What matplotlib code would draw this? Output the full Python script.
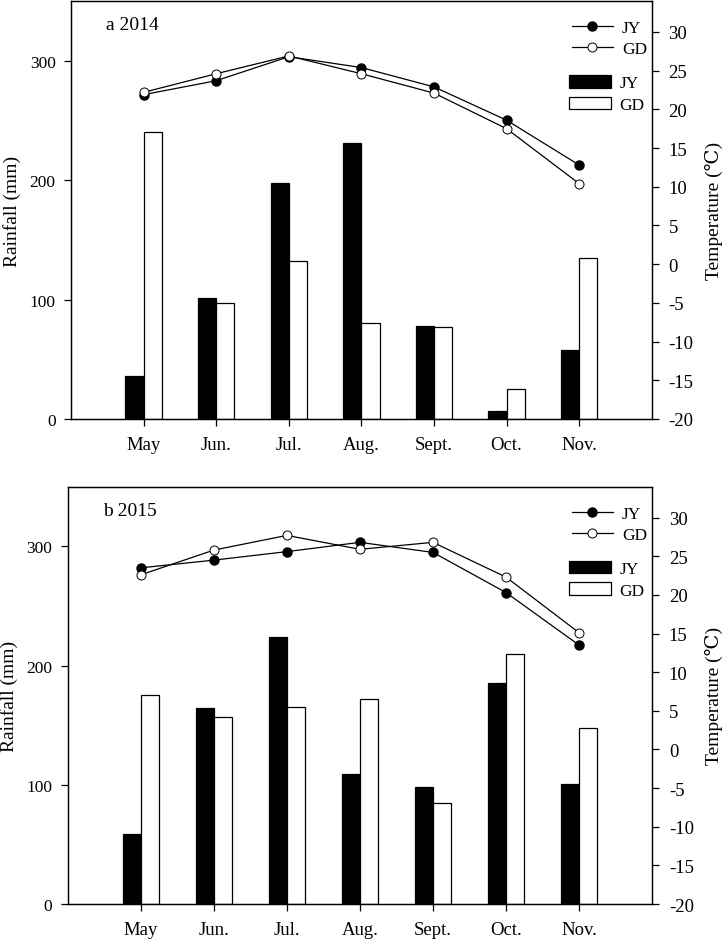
import numpy as np
import matplotlib
matplotlib.use('Agg')
from matplotlib import pyplot as plt

plt.rcParams['font.family'] = ['Liberation Serif', 'DejaVu Serif']
plt.rcParams['axes.unicode_minus'] = False

months = ['May', 'Jun.', 'Jul.', 'Aug.', 'Sept.', 'Oct.', 'Nov.']

# 2014
rain_jy_2014 = [36, 101, 198, 231, 78, 7, 58]
rain_gd_2014 = [240, 97, 132, 80, 77, 25, 135]
temp_jy_2014 = [21.9, 23.7, 26.8, 25.4, 22.9, 18.6, 12.8]
temp_gd_2014 = [22.2, 24.6, 26.9, 24.6, 22.1, 17.5, 10.4]

# 2015
rain_jy_2015 = [59, 164, 224, 109, 98, 185, 101]
rain_gd_2015 = [175, 157, 165, 172, 85, 210, 148]
temp_jy_2015 = [23.5, 24.5, 25.6, 26.8, 25.5, 20.3, 13.5]
temp_gd_2015 = [22.6, 25.8, 27.7, 25.9, 26.8, 22.3, 15.1]


def draw_panel(ax, title, rain_jy, rain_gd, temp_jy, temp_gd):
    x = np.arange(len(months))
    w = 0.25
    b1 = ax.bar(x - w / 2, rain_jy, w, color='black', edgecolor='black', linewidth=0.9, label='JY')
    b2 = ax.bar(x + w / 2, rain_gd, w, color='white', edgecolor='black', linewidth=0.9, label='GD')
    ax.set_xlim(-1, 7)
    ax.set_ylim(0, 350)
    ax.set_yticks([0, 100, 200, 300])
    ax.set_xticks(x)
    ax.set_xticklabels(months, fontsize=13.5)
    ax.tick_params(axis='y', direction='out', length=5, width=0.9, labelsize=12.5, pad=6)
    ax.tick_params(axis='x', direction='out', length=5, width=0.9, pad=7)
    ax.set_ylabel('Rainfall (mm)', fontsize=14, labelpad=6)
    ax.text(0.06, 0.943, title, transform=ax.transAxes, fontsize=14, va='center')

    ax2 = ax.twinx()
    l1, = ax2.plot(x, temp_jy, color='black', linewidth=0.9, marker='o', markersize=6.5,
                   markerfacecolor='black', markeredgecolor='black', label='JY')
    l2, = ax2.plot(x, temp_gd, color='black', linewidth=0.9, marker='o', markersize=6.5,
                   markerfacecolor='white', markeredgecolor='black', markeredgewidth=0.7, label='GD')
    ax2.set_ylim(-20, 34)
    ax2.set_yticks(range(-20, 31, 5))
    ax2.tick_params(axis='y', direction='out', length=5, width=0.9, labelsize=13.5, pad=7)
    ax2.set_ylabel('Temperature (\u2103)', fontsize=14, labelpad=8)

    for a in (ax, ax2):
        for s in a.spines.values():
            s.set_linewidth(0.9)

    leg1 = ax2.legend(handles=[l1, l2], loc='upper left', bbox_to_anchor=(0.862, 0.955),
                      frameon=False, fontsize=12.5, borderpad=0, borderaxespad=0,
                      handlelength=2.4, handletextpad=0.5, labelspacing=0.3)
    ax2.add_artist(leg1)
    ax2.legend(handles=[b1, b2], loc='upper left', bbox_to_anchor=(0.858, 0.823),
               frameon=False, fontsize=12.5, borderpad=0, borderaxespad=0,
               handlelength=2.4, handleheight=0.75, handletextpad=0.5, labelspacing=0.3)


fig = plt.figure(figsize=(7.26, 9.45), dpi=100)
ax_a = fig.add_axes([0.0978, 0.5556, 0.800, 0.4423])
ax_b = fig.add_axes([0.0933, 0.0423, 0.805, 0.4416])

draw_panel(ax_a, 'a 2014', rain_jy_2014, rain_gd_2014, temp_jy_2014, temp_gd_2014)
draw_panel(ax_b, 'b 2015', rain_jy_2015, rain_gd_2015, temp_jy_2015, temp_gd_2015)

fig.savefig('out.png', dpi=100)
